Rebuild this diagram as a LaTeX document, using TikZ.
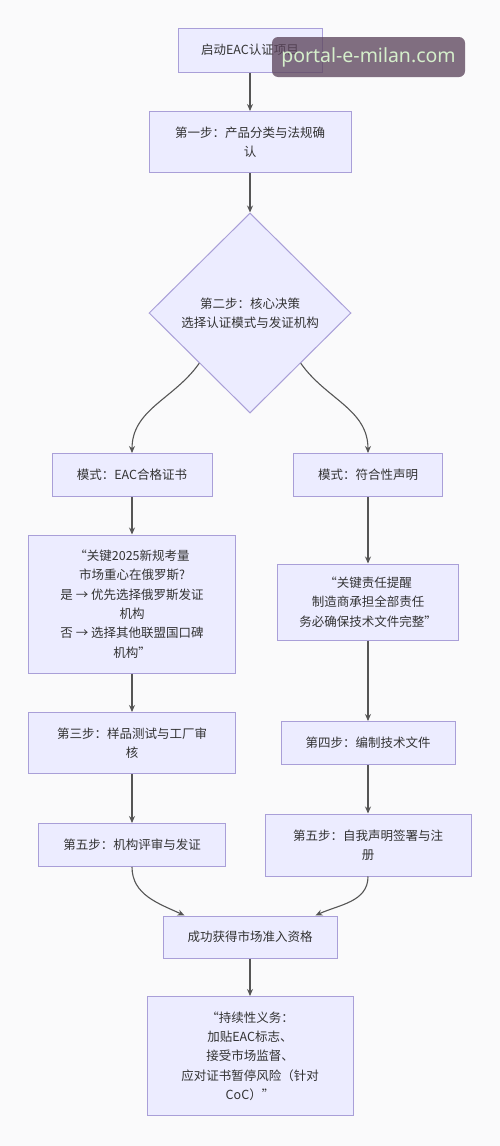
\documentclass[tikz,border=0pt]{standalone}
\usepackage{fontspec}
\setmainfont{Noto Sans CJK SC}
\newfontfamily\markfont{Noto Sans}
\usetikzlibrary{positioning, arrows.meta, shapes.geometric}
\definecolor{boxfill}{HTML}{ECECFF}
\definecolor{boxline}{HTML}{A99FD8}
\definecolor{flowline}{HTML}{555555}
\definecolor{pagebg}{HTML}{FAFAFB}
\definecolor{markbg}{HTML}{5E475E}
\definecolor{marktext}{HTML}{D5EFCB}

\begin{document}
\begin{tikzpicture}[x=1pt, y=1pt,
    box/.style={draw=boxline, fill=boxfill, line width=1pt, rectangle, align=center,
      inner sep=0pt, text=black!80, font=\fontsize{12.5}{19.3}\selectfont},
    decision/.style={box, diamond, aspect=1, minimum width=202pt, minimum height=200pt},
    flow/.style={draw=flowline, line width=1.1pt, -{Stealth[length=7pt, width=6pt]}}]

    % Bakgrunn og ramme
    \fill[pagebg] (0,0) rectangle (500,-1146);
    \useasboundingbox (0,0) rectangle (500,-1146);

    % Hovedsøyle
    \node[box, minimum width=144pt, minimum height=44pt] (start) at (250,-50) {启动EAC认证项目};
    \node[box, minimum width=202pt, minimum height=61pt] (step1) at (250,-142) {第一步：产品分类与法规确\\认};
    \node[decision] (decide) at (250,-313) {第二步：核心决策\\选择认证模式与发证机构};

    % Venstre gren: EAC合格证书
    \node[box, minimum width=160pt, minimum height=43pt] (modeEAC) at (132,-475) {模式：EAC合格证书};
    \node[box, minimum width=207pt, minimum height=138pt] (noteEAC) at (132,-604)
      {“关键2025新规考量\\市场重心在俄罗斯?\\是 → 优先选择俄罗斯发证\\机构\\否 → 选择其他联盟国口碑\\机构”};
    \node[box, minimum width=207pt, minimum height=61pt] (step3) at (132,-743) {第三步：样品测试与工厂审\\核};
    \node[box, minimum width=187pt, minimum height=43pt] (step5EAC) at (132,-845) {第五步：机构评审与发证};

    % Høyre gren: 符合性声明
    \node[box, minimum width=149pt, minimum height=43pt] (modeDoC) at (368,-475) {模式：符合性声明};
    \node[box, minimum width=181pt, minimum height=76pt] (noteDoC) at (368,-602)
      {“关键责任提醒\\制造商承担全部责任\\务必确保技术文件完整”};
    \node[box, minimum width=174pt, minimum height=43pt] (step4) at (368,-743) {第四步：编制技术文件};
    \node[box, minimum width=206pt, minimum height=62pt] (step5DoC) at (368,-845) {第五步：自我声明签署与注\\册};

    % Felles slutt
    \node[box, minimum width=174pt, minimum height=42pt] (success) at (250,-937) {成功获得市场准入资格};
    \node[box, minimum width=206pt, minimum height=119pt] (duty) at (250,-1056)
      {“持续性义务：\\加贴EAC标志、\\接受市场监督、\\应对证书暂停风险（针对\\CoC）”};

    % Piler
    \draw[flow] (start) -- (step1);
    \draw[flow] (step1) -- (decide);
    \draw[flow] (decide.south west) to[out=-125, in=90] (modeEAC.north);
    \draw[flow] (decide.south east) to[out=-55, in=90] (modeDoC.north);
    \draw[flow] (modeEAC) -- (noteEAC);
    \draw[flow] (noteEAC) -- (step3);
    \draw[flow] (step3) -- (step5EAC);
    \draw[flow] (modeDoC) -- (noteDoC);
    \draw[flow] (noteDoC) -- (step4);
    \draw[flow] (step4) -- (step5DoC);
    \draw[flow] (step5EAC.south) to[out=-90, in=155] ([xshift=22pt]success.north west);
    \draw[flow] (step5DoC.south) to[out=-90, in=25] ([xshift=-22pt]success.north east);
    \draw[flow] (success) -- (duty);

    % Vannmerke (halvgjennomsiktig, som i originalen)
    \node[fill=markbg, fill opacity=0.78, text opacity=1, text=marktext, rounded corners=6pt,
      minimum width=193pt, minimum height=40pt, inner sep=0pt,
      font=\markfont\fontsize{19.5}{21}\selectfont] (mark) at (368.5,-57) {portal-e-milan.com};
\end{tikzpicture}
\end{document}
